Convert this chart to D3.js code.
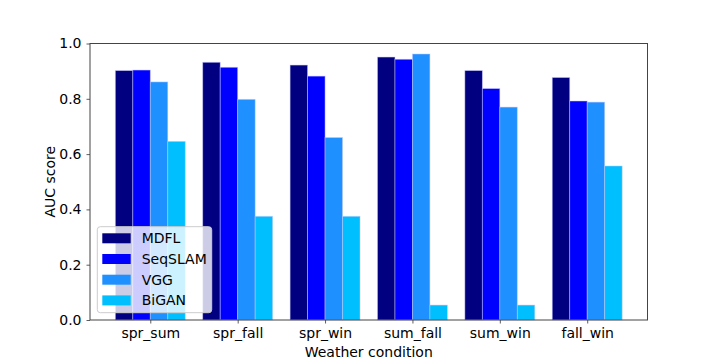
<!DOCTYPE html>
<html><head><meta charset="utf-8">
<script src="https://cdn.jsdelivr.net/npm/d3@7"></script>
<style>body{margin:0;background:#fff}text{font-family:"DejaVu Sans",sans-serif;fill:#000}</style>
</head><body>
<svg id="c" width="720" height="360"></svg>
<script>
const categories = ["spr_sum","spr_fall","spr_win","sum_fall","sum_win","fall_win"];
const seriesNames = ["MDFL","SeqSLAM","VGG","BiGAN"];
const MDFL    = [0.902,0.932,0.922,0.951,0.902,0.877];
const SeqSLAM = [0.904,0.914,0.882,0.943,0.837,0.792];
const VGG     = [0.861,0.798,0.660,0.962,0.770,0.788];
const BiGAN   = [0.646,0.375,0.375,0.054,0.054,0.557];
const yTicks  = [0.0,0.2,0.4,0.6,0.8,1.0];
const colors  = ["#000080","#0000ff","#1e90ff","#00bfff"];
const series  = [MDFL,SeqSLAM,VGG,BiGAN];

const L=90,R=647.5,T=43.5,B=320;
const FS="14px";
const svg=d3.select("#c");
const width=0.2;
const x=d3.scaleLinear().domain([-0.1-0.29,5.7+0.29]).range([L,R]);
const y=d3.scaleLinear().domain([0,1]).range([B,T]);

const g=svg.append("g");
series.forEach((vals,si)=>{
  g.selectAll(null).data(vals).enter().append("rect")
    .attr("x",(d,i)=>x(i+si*width-width/2))
    .attr("width",(d,i)=>x(i+si*width+width/2)-x(i+si*width-width/2))
    .attr("y",d=>y(d))
    .attr("height",d=>B-y(d))
    .attr("fill",colors[si])
    .attr("stroke","rgba(200,200,255,0.6)")
    .attr("stroke-width",0.8);
});

const xAxis=d3.axisBottom(x)
  .tickValues(categories.map((c,i)=>i+0.3)).tickFormat((d,i)=>categories[i]).tickSize(3.5).tickPadding(5);
const xa=svg.append("g").attr("transform",`translate(0,${B})`).call(xAxis);
const ya=svg.append("g").attr("transform",`translate(${L},0)`).call(d3.axisLeft(y).tickValues(yTicks).tickFormat(d3.format(".1f")).tickSize(3.5).tickPadding(5));
[xa,ya].forEach(a=>{a.select(".domain").remove();a.selectAll("line").attr("stroke","#333").attr("stroke-width",0.8);a.selectAll("text").style("font-size",FS).style("font-family","DejaVu Sans").attr("fill","#000");});
svg.append("rect").attr("x",L).attr("y",T).attr("width",R-L).attr("height",B-T)
  .attr("fill","none").attr("stroke","#444").attr("stroke-width",1);

svg.append("text").attr("x",(L+R)/2).attr("y",357).attr("text-anchor","middle").style("font-size",FS).text("Weather condition");
svg.append("text").attr("transform",`translate(50,${(T+B)/2}) rotate(-90)`).attr("text-anchor","middle").attr("dy","0.35em").style("font-size",FS).text("AUC score");

const lg=svg.append("g");
lg.append("rect").attr("x",97.3).attr("y",226.7).attr("width",114.4).attr("height",86).attr("rx",3)
  .attr("fill","rgba(255,255,255,0.8)").attr("stroke","#ccc").attr("stroke-width",1);
seriesNames.forEach((n,i)=>{
  const yy=238.3+i*20.7;
  lg.append("rect").attr("x",102.3).attr("y",yy-5).attr("width",28.4).attr("height",10).attr("fill",colors[i]);
  lg.append("text").attr("x",141.7).attr("y",yy).attr("dy","0.36em").style("font-size",FS).text(n);
});
</script></body></html>
